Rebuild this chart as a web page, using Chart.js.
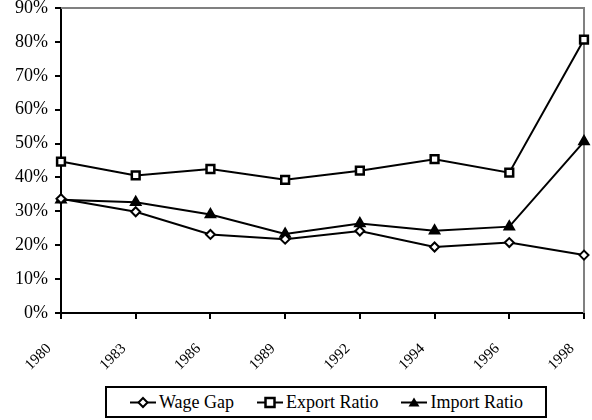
<!DOCTYPE html>
<html>
<head>
<meta charset="utf-8">
<script src="https://cdn.jsdelivr.net/npm/chart.js@4/dist/chart.umd.min.js"></script>
<style>
  html, body { margin: 0; padding: 0; background: #fff; }
  #wrap { position: relative; width: 592px; height: 420px; }
  #chart { display: block; }
  #legend {
    position: absolute; left: 105px; top: 386px; width: 442px; height: 32px;
    border: 2px solid #000; box-sizing: border-box; background: #fff;
    display: flex; align-items: center; justify-content: space-evenly;
    font-family: 'Liberation Serif'; font-size: 18px; color: #000;
  }
  #legend span.item { display: flex; align-items: center; white-space: nowrap; }
  #legend svg { margin-right: 2px; }
</style>
</head>
<body>
<div id="wrap">
  <canvas id="chart" width="592" height="420"></canvas>
  <div id="legend"></div>
</div>
<script>
const years = ['1980', '1983', '1986', '1989', '1992', '1994', '1996', '1998'];
const wageGap = [0.337, 0.299, 0.232, 0.218, 0.242, 0.195, 0.208, 0.171];
const exportRatio = [0.447, 0.406, 0.425, 0.393, 0.42, 0.454, 0.414, 0.807];
const importRatio = [0.334, 0.327, 0.291, 0.233, 0.264, 0.243, 0.255, 0.506];
const yTicks = [0, 0.1, 0.2, 0.3, 0.4, 0.5, 0.6, 0.7, 0.8, 0.9];

const font = { family: "'Liberation Serif'" };

// gray frame on the top and right of the plot area
const framePlugin = {
  id: 'frame',
  beforeDatasetsDraw(chart) {
    const { ctx, chartArea: a } = chart;
    ctx.save();
    ctx.strokeStyle = '#808080';
    ctx.lineWidth = 2;
    ctx.beginPath();
    ctx.moveTo(a.left, a.top);
    ctx.lineTo(a.right, a.top);
    ctx.lineTo(a.right, a.bottom);
    ctx.stroke();
    ctx.restore();
  },
};

const series = [
  { label: 'Wage Gap', data: wageGap, pointStyle: 'rectRot', pointRadius: 4.5, pointBackgroundColor: '#fff' },
  { label: 'Export Ratio', data: exportRatio, pointStyle: 'rect', pointRadius: 5.5, pointBackgroundColor: '#fff' },
  { label: 'Import Ratio', data: importRatio, pointStyle: 'triangle', pointRadius: 5.5, pointBackgroundColor: '#000' },
];

new Chart(document.getElementById('chart'), {
  type: 'line',
  data: {
    labels: years,
    datasets: series.map((s) => ({
      label: s.label,
      data: s.data,
      borderColor: '#000',
      borderWidth: 2,
      pointStyle: s.pointStyle,
      pointRadius: s.pointRadius,
      pointBorderColor: '#000',
      pointBorderWidth: s.pointStyle === 'rect' ? 2.5 : 2,
      pointBackgroundColor: s.pointBackgroundColor,
      tension: 0,
      fill: false,
      clip: false,
    })),
  },
  options: {
    responsive: false,
    animation: false,
    layout: { padding: { left: 8, right: 4, top: 7, bottom: 25 } },
    plugins: { legend: { display: false }, tooltip: { enabled: false } },
    scales: {
      x: {
        offset: false,
        afterFit(axis) { axis.paddingRight = 0; axis.paddingLeft = 0; },
        grid: { drawOnChartArea: false, drawTicks: true, tickLength: 6, color: '#000', lineWidth: 2 },
        border: { color: '#000', width: 2 },
        ticks: {
          color: '#000', font: { ...font, size: 15 },
          minRotation: 45, maxRotation: 45, padding: 21, labelOffset: -12,
        },
      },
      y: {
        min: 0,
        max: 0.9,
        afterBuildTicks(axis) { axis.ticks = yTicks.map((v) => ({ value: v })); },
        afterFit(axis) { axis.paddingTop = 0; axis.paddingBottom = 0; },
        grid: { drawOnChartArea: false, drawTicks: true, tickLength: 6, color: '#000', lineWidth: 2 },
        border: { color: '#000', width: 2 },
        ticks: {
          color: '#000',
          font: { ...font, size: 18 },
          padding: 7,
          callback: (v) => Math.round(v * 100) + '%',
        },
      },
    },
  },
  plugins: [framePlugin],
});

// legend with line + marker samples
const markers = {
  'rectRot': '<polygon points="14,4 18.5,8.5 14,13 9.5,8.5" fill="#fff" stroke="#000" stroke-width="2"/>',
  'rect': '<rect x="9.5" y="4" width="9" height="9" fill="#fff" stroke="#000" stroke-width="2.5"/>',
  'triangle': '<polygon points="14,3.5 19.5,12.5 8.5,12.5" fill="#000"/>',
};
document.getElementById('legend').innerHTML = series.map((s) =>
  '<span class="item"><svg width="28" height="17"><line x1="1" y1="8.5" x2="27" y2="8.5" stroke="#000" stroke-width="2"/>' +
  markers[s.pointStyle] + '</svg>' + s.label + '</span>'
).join('');
</script>
</body>
</html>
